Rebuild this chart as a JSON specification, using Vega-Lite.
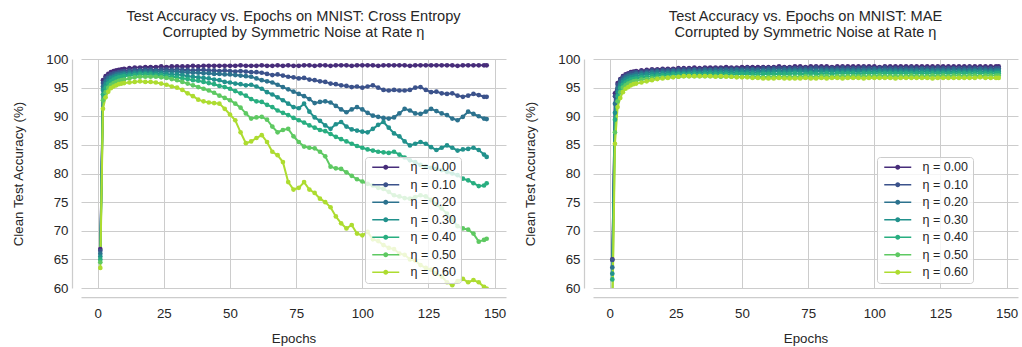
{
  "$schema": "https://vega.github.io/schema/vega-lite/v6.json",
  "background": "white",
  "padding": {"left": 11, "top": 8, "right": 3, "bottom": 3},
  "config": {
    "view": {"stroke": null},
    "font": "Liberation Sans",
    "axis": {
      "domainColor": "#cccccc", "domainWidth": 1.25,
      "gridColor": "#cccccc", "gridWidth": 1,
      "ticks": false, "tickSize": 0,
      "labelFont": "Liberation Sans", "labelFontSize": 13.3, "labelColor": "#262626",
      "titleFont": "Liberation Sans", "titleFontSize": 13.3, "titleFontWeight": "normal", "titleColor": "#262626"
    },
    "title": {"font": "Liberation Sans", "fontSize": 14.6, "fontWeight": "normal", "color": "#262626", "lineHeight": 16.5, "offset": 12, "anchor": "middle"}
  },
  "datasets": {
    "ce": [
      {"n":0,"e":1,"a":66.8},{"n":0,"e":2,"a":96.3},{"n":0,"e":3,"a":97.0},{"n":0,"e":4,"a":97.4},{"n":0,"e":5,"a":97.7},{"n":0,"e":6,"a":97.9},{"n":0,"e":7,"a":98.0},{"n":0,"e":8,"a":98.1},{"n":0,"e":9,"a":98.2},{"n":0,"e":10,"a":98.3},
      {"n":0,"e":12,"a":98.4},{"n":0,"e":14,"a":98.5},{"n":0,"e":16,"a":98.5},{"n":0,"e":18,"a":98.6},{"n":0,"e":20,"a":98.6},{"n":0,"e":22,"a":98.6},{"n":0,"e":24,"a":98.7},{"n":0,"e":26,"a":98.6},{"n":0,"e":28,"a":98.7},{"n":0,"e":30,"a":98.7},
      {"n":0,"e":32,"a":98.7},{"n":0,"e":34,"a":98.7},{"n":0,"e":36,"a":98.8},{"n":0,"e":38,"a":98.7},{"n":0,"e":40,"a":98.8},{"n":0,"e":42,"a":98.8},{"n":0,"e":44,"a":98.8},{"n":0,"e":46,"a":98.8},{"n":0,"e":48,"a":98.8},{"n":0,"e":50,"a":98.8},
      {"n":0,"e":52,"a":98.8},{"n":0,"e":54,"a":98.9},{"n":0,"e":56,"a":98.8},{"n":0,"e":58,"a":98.8},{"n":0,"e":60,"a":98.8},{"n":0,"e":62,"a":98.9},{"n":0,"e":64,"a":98.8},{"n":0,"e":66,"a":98.8},{"n":0,"e":68,"a":98.9},{"n":0,"e":70,"a":98.8},
      {"n":0,"e":72,"a":98.9},{"n":0,"e":74,"a":98.8},{"n":0,"e":76,"a":98.8},{"n":0,"e":78,"a":98.9},{"n":0,"e":80,"a":98.9},{"n":0,"e":82,"a":98.8},{"n":0,"e":84,"a":98.9},{"n":0,"e":86,"a":98.9},{"n":0,"e":88,"a":98.8},{"n":0,"e":90,"a":98.9},
      {"n":0,"e":92,"a":98.9},{"n":0,"e":94,"a":98.9},{"n":0,"e":96,"a":98.8},{"n":0,"e":98,"a":98.9},{"n":0,"e":100,"a":98.9},{"n":0,"e":102,"a":98.9},{"n":0,"e":104,"a":98.9},{"n":0,"e":106,"a":98.8},{"n":0,"e":108,"a":98.9},{"n":0,"e":110,"a":98.9},
      {"n":0,"e":112,"a":98.9},{"n":0,"e":114,"a":98.9},{"n":0,"e":116,"a":98.9},{"n":0,"e":118,"a":98.8},{"n":0,"e":120,"a":98.9},{"n":0,"e":122,"a":98.9},{"n":0,"e":124,"a":98.9},{"n":0,"e":126,"a":98.9},{"n":0,"e":128,"a":98.9},{"n":0,"e":130,"a":98.9},
      {"n":0,"e":132,"a":98.9},{"n":0,"e":134,"a":98.9},{"n":0,"e":136,"a":98.8},{"n":0,"e":138,"a":98.9},{"n":0,"e":140,"a":98.9},{"n":0,"e":142,"a":98.9},{"n":0,"e":144,"a":98.9},{"n":0,"e":146,"a":98.9},{"n":0,"e":147,"a":98.9},

      {"n":0.1,"e":1,"a":66.5},{"n":0.1,"e":2,"a":95.8},{"n":0.1,"e":3,"a":96.6},{"n":0.1,"e":4,"a":97.0},{"n":0.1,"e":5,"a":97.3},{"n":0.1,"e":6,"a":97.5},{"n":0.1,"e":7,"a":97.6},{"n":0.1,"e":8,"a":97.7},{"n":0.1,"e":9,"a":97.8},{"n":0.1,"e":10,"a":97.9},
      {"n":0.1,"e":12,"a":98.0},{"n":0.1,"e":14,"a":98.1},{"n":0.1,"e":16,"a":98.1},{"n":0.1,"e":18,"a":98.2},{"n":0.1,"e":20,"a":98.2},{"n":0.1,"e":22,"a":98.1},{"n":0.1,"e":24,"a":98.2},{"n":0.1,"e":26,"a":98.2},{"n":0.1,"e":28,"a":98.1},{"n":0.1,"e":30,"a":98.2},
      {"n":0.1,"e":32,"a":98.1},{"n":0.1,"e":34,"a":98.1},{"n":0.1,"e":36,"a":98.0},{"n":0.1,"e":38,"a":98.1},{"n":0.1,"e":40,"a":98.1},{"n":0.1,"e":42,"a":98.0},{"n":0.1,"e":44,"a":98.0},{"n":0.1,"e":46,"a":97.9},{"n":0.1,"e":48,"a":98.0},{"n":0.1,"e":50,"a":97.9},
      {"n":0.1,"e":52,"a":97.8},{"n":0.1,"e":54,"a":97.9},{"n":0.1,"e":56,"a":97.8},{"n":0.1,"e":58,"a":97.7},{"n":0.1,"e":60,"a":97.7},{"n":0.1,"e":62,"a":97.6},{"n":0.1,"e":64,"a":97.4},{"n":0.1,"e":66,"a":97.2},{"n":0.1,"e":68,"a":97.3},{"n":0.1,"e":70,"a":97.1},
      {"n":0.1,"e":72,"a":96.9},{"n":0.1,"e":74,"a":96.8},{"n":0.1,"e":76,"a":96.6},{"n":0.1,"e":78,"a":96.7},{"n":0.1,"e":80,"a":96.4},{"n":0.1,"e":82,"a":96.3},{"n":0.1,"e":84,"a":96.1},{"n":0.1,"e":86,"a":96.0},{"n":0.1,"e":88,"a":95.7},{"n":0.1,"e":90,"a":95.6},
      {"n":0.1,"e":92,"a":95.4},{"n":0.1,"e":94,"a":95.3},{"n":0.1,"e":96,"a":95.1},{"n":0.1,"e":98,"a":95.2},{"n":0.1,"e":100,"a":95.0},{"n":0.1,"e":102,"a":95.2},{"n":0.1,"e":104,"a":95.4},{"n":0.1,"e":106,"a":95.0},{"n":0.1,"e":108,"a":94.6},{"n":0.1,"e":110,"a":94.5},
      {"n":0.1,"e":112,"a":94.6},{"n":0.1,"e":114,"a":94.5},{"n":0.1,"e":116,"a":94.5},{"n":0.1,"e":118,"a":94.6},{"n":0.1,"e":120,"a":95.0},{"n":0.1,"e":122,"a":95.1},{"n":0.1,"e":124,"a":94.6},{"n":0.1,"e":126,"a":94.2},{"n":0.1,"e":128,"a":94.3},{"n":0.1,"e":130,"a":94.0},
      {"n":0.1,"e":132,"a":93.9},{"n":0.1,"e":134,"a":94.0},{"n":0.1,"e":136,"a":93.6},{"n":0.1,"e":138,"a":93.4},{"n":0.1,"e":140,"a":93.6},{"n":0.1,"e":142,"a":93.9},{"n":0.1,"e":144,"a":93.7},{"n":0.1,"e":146,"a":93.4},{"n":0.1,"e":147,"a":93.4},

      {"n":0.2,"e":1,"a":66.0},{"n":0.2,"e":2,"a":95.2},{"n":0.2,"e":3,"a":96.1},{"n":0.2,"e":4,"a":96.6},{"n":0.2,"e":5,"a":96.9},{"n":0.2,"e":6,"a":97.1},{"n":0.2,"e":7,"a":97.3},{"n":0.2,"e":8,"a":97.4},{"n":0.2,"e":9,"a":97.5},{"n":0.2,"e":10,"a":97.6},
      {"n":0.2,"e":12,"a":97.7},{"n":0.2,"e":14,"a":97.8},{"n":0.2,"e":16,"a":97.9},{"n":0.2,"e":18,"a":97.9},{"n":0.2,"e":20,"a":97.9},{"n":0.2,"e":22,"a":97.9},{"n":0.2,"e":24,"a":97.8},{"n":0.2,"e":26,"a":97.8},{"n":0.2,"e":28,"a":97.8},{"n":0.2,"e":30,"a":97.8},
      {"n":0.2,"e":32,"a":97.7},{"n":0.2,"e":34,"a":97.7},{"n":0.2,"e":36,"a":97.6},{"n":0.2,"e":38,"a":97.6},{"n":0.2,"e":40,"a":97.5},{"n":0.2,"e":42,"a":97.5},{"n":0.2,"e":44,"a":97.4},{"n":0.2,"e":46,"a":97.4},{"n":0.2,"e":48,"a":97.3},{"n":0.2,"e":50,"a":97.3},
      {"n":0.2,"e":52,"a":97.2},{"n":0.2,"e":54,"a":97.1},{"n":0.2,"e":56,"a":97.0},{"n":0.2,"e":58,"a":96.9},{"n":0.2,"e":60,"a":96.6},{"n":0.2,"e":62,"a":96.3},{"n":0.2,"e":64,"a":96.1},{"n":0.2,"e":66,"a":95.9},{"n":0.2,"e":68,"a":95.5},{"n":0.2,"e":70,"a":95.1},
      {"n":0.2,"e":72,"a":94.7},{"n":0.2,"e":74,"a":94.3},{"n":0.2,"e":76,"a":93.9},{"n":0.2,"e":78,"a":93.5},{"n":0.2,"e":80,"a":93.0},{"n":0.2,"e":82,"a":92.3},{"n":0.2,"e":84,"a":92.5},{"n":0.2,"e":86,"a":92.6},{"n":0.2,"e":88,"a":92.4},{"n":0.2,"e":90,"a":91.8},
      {"n":0.2,"e":92,"a":91.2},{"n":0.2,"e":94,"a":90.7},{"n":0.2,"e":96,"a":91.2},{"n":0.2,"e":98,"a":91.6},{"n":0.2,"e":100,"a":91.2},{"n":0.2,"e":102,"a":90.6},{"n":0.2,"e":104,"a":90.1},{"n":0.2,"e":106,"a":89.9},{"n":0.2,"e":108,"a":89.7},{"n":0.2,"e":110,"a":89.6},
      {"n":0.2,"e":112,"a":89.8},{"n":0.2,"e":114,"a":90.5},{"n":0.2,"e":116,"a":91.3},{"n":0.2,"e":118,"a":91.0},{"n":0.2,"e":120,"a":90.5},{"n":0.2,"e":122,"a":90.4},{"n":0.2,"e":124,"a":90.8},{"n":0.2,"e":126,"a":91.3},{"n":0.2,"e":128,"a":90.9},{"n":0.2,"e":130,"a":90.5},
      {"n":0.2,"e":132,"a":90.2},{"n":0.2,"e":134,"a":89.6},{"n":0.2,"e":136,"a":89.3},{"n":0.2,"e":138,"a":89.9},{"n":0.2,"e":140,"a":90.8},{"n":0.2,"e":142,"a":90.4},{"n":0.2,"e":144,"a":90.0},{"n":0.2,"e":146,"a":89.6},{"n":0.2,"e":147,"a":89.5},

      {"n":0.3,"e":1,"a":65.5},{"n":0.3,"e":2,"a":94.6},{"n":0.3,"e":3,"a":95.6},{"n":0.3,"e":4,"a":96.2},{"n":0.3,"e":5,"a":96.6},{"n":0.3,"e":6,"a":96.8},{"n":0.3,"e":7,"a":97.0},{"n":0.3,"e":8,"a":97.1},{"n":0.3,"e":9,"a":97.2},{"n":0.3,"e":10,"a":97.3},
      {"n":0.3,"e":12,"a":97.4},{"n":0.3,"e":14,"a":97.5},{"n":0.3,"e":16,"a":97.6},{"n":0.3,"e":18,"a":97.6},{"n":0.3,"e":20,"a":97.6},{"n":0.3,"e":22,"a":97.5},{"n":0.3,"e":24,"a":97.5},{"n":0.3,"e":26,"a":97.4},{"n":0.3,"e":28,"a":97.3},{"n":0.3,"e":30,"a":97.3},
      {"n":0.3,"e":32,"a":97.2},{"n":0.3,"e":34,"a":97.0},{"n":0.3,"e":36,"a":96.9},{"n":0.3,"e":38,"a":96.8},{"n":0.3,"e":40,"a":96.7},{"n":0.3,"e":42,"a":96.6},{"n":0.3,"e":44,"a":96.4},{"n":0.3,"e":46,"a":96.3},{"n":0.3,"e":48,"a":96.0},{"n":0.3,"e":50,"a":95.9},
      {"n":0.3,"e":52,"a":95.7},{"n":0.3,"e":54,"a":95.6},{"n":0.3,"e":56,"a":95.4},{"n":0.3,"e":58,"a":95.5},{"n":0.3,"e":60,"a":95.2},{"n":0.3,"e":62,"a":94.8},{"n":0.3,"e":64,"a":94.2},{"n":0.3,"e":66,"a":93.8},{"n":0.3,"e":68,"a":93.3},{"n":0.3,"e":70,"a":92.8},
      {"n":0.3,"e":72,"a":92.2},{"n":0.3,"e":74,"a":91.6},{"n":0.3,"e":76,"a":91.4},{"n":0.3,"e":78,"a":92.2},{"n":0.3,"e":80,"a":90.8},{"n":0.3,"e":82,"a":89.8},{"n":0.3,"e":84,"a":89.2},{"n":0.3,"e":86,"a":88.4},{"n":0.3,"e":88,"a":87.8},{"n":0.3,"e":90,"a":88.6},
      {"n":0.3,"e":92,"a":89.0},{"n":0.3,"e":94,"a":88.2},{"n":0.3,"e":96,"a":87.7},{"n":0.3,"e":98,"a":87.5},{"n":0.3,"e":100,"a":87.3},{"n":0.3,"e":102,"a":87.2},{"n":0.3,"e":104,"a":87.8},{"n":0.3,"e":106,"a":88.5},{"n":0.3,"e":108,"a":89.0},{"n":0.3,"e":110,"a":88.0},
      {"n":0.3,"e":112,"a":87.0},{"n":0.3,"e":114,"a":86.5},{"n":0.3,"e":116,"a":85.6},{"n":0.3,"e":118,"a":84.9},{"n":0.3,"e":120,"a":85.2},{"n":0.3,"e":122,"a":85.5},{"n":0.3,"e":124,"a":85.2},{"n":0.3,"e":126,"a":84.6},{"n":0.3,"e":128,"a":84.1},{"n":0.3,"e":130,"a":84.5},
      {"n":0.3,"e":132,"a":84.9},{"n":0.3,"e":134,"a":84.5},{"n":0.3,"e":136,"a":84.0},{"n":0.3,"e":138,"a":84.2},{"n":0.3,"e":140,"a":84.3},{"n":0.3,"e":142,"a":84.5},{"n":0.3,"e":144,"a":84.1},{"n":0.3,"e":146,"a":83.3},{"n":0.3,"e":147,"a":82.9},

      {"n":0.4,"e":1,"a":65.0},{"n":0.4,"e":2,"a":93.8},{"n":0.4,"e":3,"a":95.0},{"n":0.4,"e":4,"a":95.7},{"n":0.4,"e":5,"a":96.1},{"n":0.4,"e":6,"a":96.4},{"n":0.4,"e":7,"a":96.6},{"n":0.4,"e":8,"a":96.8},{"n":0.4,"e":9,"a":96.9},{"n":0.4,"e":10,"a":97.0},
      {"n":0.4,"e":12,"a":97.1},{"n":0.4,"e":14,"a":97.2},{"n":0.4,"e":16,"a":97.3},{"n":0.4,"e":18,"a":97.3},{"n":0.4,"e":20,"a":97.3},{"n":0.4,"e":22,"a":97.2},{"n":0.4,"e":24,"a":97.2},{"n":0.4,"e":26,"a":97.0},{"n":0.4,"e":28,"a":96.9},{"n":0.4,"e":30,"a":96.8},
      {"n":0.4,"e":32,"a":96.6},{"n":0.4,"e":34,"a":96.5},{"n":0.4,"e":36,"a":96.3},{"n":0.4,"e":38,"a":96.2},{"n":0.4,"e":40,"a":96.0},{"n":0.4,"e":42,"a":95.8},{"n":0.4,"e":44,"a":95.6},{"n":0.4,"e":46,"a":95.3},{"n":0.4,"e":48,"a":95.1},{"n":0.4,"e":50,"a":94.8},
      {"n":0.4,"e":52,"a":94.4},{"n":0.4,"e":54,"a":94.0},{"n":0.4,"e":56,"a":93.6},{"n":0.4,"e":58,"a":93.0},{"n":0.4,"e":60,"a":92.6},{"n":0.4,"e":62,"a":92.5},{"n":0.4,"e":64,"a":92.0},{"n":0.4,"e":66,"a":91.6},{"n":0.4,"e":68,"a":91.0},{"n":0.4,"e":70,"a":90.6},
      {"n":0.4,"e":72,"a":90.2},{"n":0.4,"e":74,"a":89.7},{"n":0.4,"e":76,"a":89.3},{"n":0.4,"e":78,"a":88.9},{"n":0.4,"e":80,"a":88.4},{"n":0.4,"e":82,"a":88.0},{"n":0.4,"e":84,"a":87.6},{"n":0.4,"e":86,"a":87.4},{"n":0.4,"e":88,"a":86.9},{"n":0.4,"e":90,"a":86.4},
      {"n":0.4,"e":92,"a":86.0},{"n":0.4,"e":94,"a":85.6},{"n":0.4,"e":96,"a":85.2},{"n":0.4,"e":98,"a":84.8},{"n":0.4,"e":100,"a":84.5},{"n":0.4,"e":102,"a":84.2},{"n":0.4,"e":104,"a":84.0},{"n":0.4,"e":106,"a":83.8},{"n":0.4,"e":108,"a":83.7},{"n":0.4,"e":110,"a":83.6},
      {"n":0.4,"e":112,"a":83.8},{"n":0.4,"e":114,"a":83.3},{"n":0.4,"e":116,"a":82.8},{"n":0.4,"e":118,"a":82.3},{"n":0.4,"e":120,"a":82.0},{"n":0.4,"e":122,"a":81.5},{"n":0.4,"e":124,"a":81.2},{"n":0.4,"e":126,"a":81.0},{"n":0.4,"e":128,"a":80.8},{"n":0.4,"e":130,"a":80.6},
      {"n":0.4,"e":132,"a":80.3},{"n":0.4,"e":134,"a":80.0},{"n":0.4,"e":136,"a":79.7},{"n":0.4,"e":138,"a":79.1},{"n":0.4,"e":140,"a":78.8},{"n":0.4,"e":142,"a":78.3},{"n":0.4,"e":144,"a":77.8},{"n":0.4,"e":146,"a":77.9},{"n":0.4,"e":147,"a":78.3},

      {"n":0.5,"e":1,"a":64.5},{"n":0.5,"e":2,"a":92.8},{"n":0.5,"e":3,"a":94.2},{"n":0.5,"e":4,"a":95.0},{"n":0.5,"e":5,"a":95.5},{"n":0.5,"e":6,"a":95.8},{"n":0.5,"e":7,"a":96.0},{"n":0.5,"e":8,"a":96.2},{"n":0.5,"e":9,"a":96.3},{"n":0.5,"e":10,"a":96.4},
      {"n":0.5,"e":12,"a":96.6},{"n":0.5,"e":14,"a":96.8},{"n":0.5,"e":16,"a":96.9},{"n":0.5,"e":18,"a":96.9},{"n":0.5,"e":20,"a":96.9},{"n":0.5,"e":22,"a":96.9},{"n":0.5,"e":24,"a":96.8},{"n":0.5,"e":26,"a":96.7},{"n":0.5,"e":28,"a":96.5},{"n":0.5,"e":30,"a":96.3},
      {"n":0.5,"e":32,"a":96.0},{"n":0.5,"e":34,"a":95.7},{"n":0.5,"e":36,"a":95.4},{"n":0.5,"e":38,"a":95.1},{"n":0.5,"e":40,"a":94.8},{"n":0.5,"e":42,"a":94.5},{"n":0.5,"e":44,"a":94.1},{"n":0.5,"e":46,"a":93.6},{"n":0.5,"e":48,"a":93.2},{"n":0.5,"e":50,"a":92.8},
      {"n":0.5,"e":52,"a":92.2},{"n":0.5,"e":54,"a":91.5},{"n":0.5,"e":56,"a":90.5},{"n":0.5,"e":58,"a":89.6},{"n":0.5,"e":60,"a":89.8},{"n":0.5,"e":62,"a":89.9},{"n":0.5,"e":64,"a":89.4},{"n":0.5,"e":66,"a":88.2},{"n":0.5,"e":68,"a":87.2},{"n":0.5,"e":70,"a":87.6},
      {"n":0.5,"e":72,"a":87.8},{"n":0.5,"e":74,"a":86.5},{"n":0.5,"e":76,"a":85.5},{"n":0.5,"e":78,"a":84.7},{"n":0.5,"e":80,"a":84.5},{"n":0.5,"e":82,"a":84.4},{"n":0.5,"e":84,"a":83.8},{"n":0.5,"e":86,"a":83.0},{"n":0.5,"e":88,"a":81.2},{"n":0.5,"e":90,"a":80.9},
      {"n":0.5,"e":92,"a":80.8},{"n":0.5,"e":94,"a":80.2},{"n":0.5,"e":96,"a":79.6},{"n":0.5,"e":98,"a":79.0},{"n":0.5,"e":100,"a":78.6},{"n":0.5,"e":102,"a":78.2},{"n":0.5,"e":104,"a":77.9},{"n":0.5,"e":106,"a":77.5},{"n":0.5,"e":108,"a":77.3},{"n":0.5,"e":110,"a":76.8},
      {"n":0.5,"e":112,"a":76.2},{"n":0.5,"e":114,"a":76.0},{"n":0.5,"e":116,"a":75.7},{"n":0.5,"e":118,"a":75.6},{"n":0.5,"e":120,"a":75.9},{"n":0.5,"e":122,"a":76.2},{"n":0.5,"e":124,"a":76.0},{"n":0.5,"e":126,"a":75.4},{"n":0.5,"e":128,"a":74.6},{"n":0.5,"e":130,"a":73.9},
      {"n":0.5,"e":132,"a":73.0},{"n":0.5,"e":134,"a":72.0},{"n":0.5,"e":136,"a":70.8},{"n":0.5,"e":138,"a":70.4},{"n":0.5,"e":140,"a":70.2},{"n":0.5,"e":142,"a":69.5},{"n":0.5,"e":144,"a":68.1},{"n":0.5,"e":146,"a":68.4},{"n":0.5,"e":147,"a":68.6},

      {"n":0.6,"e":1,"a":63.5},{"n":0.6,"e":2,"a":91.3},{"n":0.6,"e":3,"a":93.3},{"n":0.6,"e":4,"a":94.3},{"n":0.6,"e":5,"a":94.9},{"n":0.6,"e":6,"a":95.2},{"n":0.6,"e":7,"a":95.4},{"n":0.6,"e":8,"a":95.6},{"n":0.6,"e":9,"a":95.7},{"n":0.6,"e":10,"a":95.8},
      {"n":0.6,"e":12,"a":95.9},{"n":0.6,"e":14,"a":96.0},{"n":0.6,"e":16,"a":96.1},{"n":0.6,"e":18,"a":96.0},{"n":0.6,"e":20,"a":96.0},{"n":0.6,"e":22,"a":95.9},{"n":0.6,"e":24,"a":95.7},{"n":0.6,"e":26,"a":95.5},{"n":0.6,"e":28,"a":95.2},{"n":0.6,"e":30,"a":95.0},
      {"n":0.6,"e":32,"a":94.6},{"n":0.6,"e":34,"a":94.0},{"n":0.6,"e":36,"a":93.5},{"n":0.6,"e":38,"a":92.9},{"n":0.6,"e":40,"a":92.6},{"n":0.6,"e":42,"a":92.4},{"n":0.6,"e":44,"a":92.3},{"n":0.6,"e":46,"a":92.2},{"n":0.6,"e":48,"a":91.3},{"n":0.6,"e":50,"a":90.3},
      {"n":0.6,"e":52,"a":89.3},{"n":0.6,"e":54,"a":87.2},{"n":0.6,"e":56,"a":85.3},{"n":0.6,"e":58,"a":85.6},{"n":0.6,"e":60,"a":86.2},{"n":0.6,"e":62,"a":86.7},{"n":0.6,"e":64,"a":85.5},{"n":0.6,"e":66,"a":83.8},{"n":0.6,"e":68,"a":83.2},{"n":0.6,"e":70,"a":82.0},
      {"n":0.6,"e":72,"a":78.5},{"n":0.6,"e":74,"a":77.2},{"n":0.6,"e":76,"a":77.5},{"n":0.6,"e":78,"a":78.5},{"n":0.6,"e":80,"a":77.2},{"n":0.6,"e":82,"a":76.6},{"n":0.6,"e":84,"a":75.6},{"n":0.6,"e":86,"a":75.0},{"n":0.6,"e":88,"a":74.1},{"n":0.6,"e":90,"a":72.5},
      {"n":0.6,"e":92,"a":71.3},{"n":0.6,"e":94,"a":70.4},{"n":0.6,"e":96,"a":71.0},{"n":0.6,"e":98,"a":69.5},{"n":0.6,"e":100,"a":69.2},{"n":0.6,"e":102,"a":69.8},{"n":0.6,"e":104,"a":68.5},{"n":0.6,"e":106,"a":68.2},{"n":0.6,"e":108,"a":67.5},{"n":0.6,"e":110,"a":67.0},
      {"n":0.6,"e":112,"a":66.8},{"n":0.6,"e":114,"a":66.0},{"n":0.6,"e":116,"a":65.8},{"n":0.6,"e":118,"a":65.0},{"n":0.6,"e":120,"a":64.8},{"n":0.6,"e":122,"a":64.0},{"n":0.6,"e":124,"a":63.5},{"n":0.6,"e":126,"a":63.2},{"n":0.6,"e":128,"a":62.5},{"n":0.6,"e":130,"a":62.0},
      {"n":0.6,"e":132,"a":61.0},{"n":0.6,"e":134,"a":60.5},{"n":0.6,"e":136,"a":61.2},{"n":0.6,"e":138,"a":61.6},{"n":0.6,"e":140,"a":61.0},{"n":0.6,"e":142,"a":61.4},{"n":0.6,"e":144,"a":61.0},{"n":0.6,"e":146,"a":60.2},{"n":0.6,"e":147,"a":59.9}
    ],
    "mae": [
      {"n":0,"e":1,"a":65.0},{"n":0,"e":2,"a":94.0},{"n":0,"e":3,"a":95.8},{"n":0,"e":4,"a":96.5},{"n":0,"e":5,"a":97.0},{"n":0,"e":6,"a":97.3},{"n":0,"e":7,"a":97.5},{"n":0,"e":8,"a":97.7},{"n":0,"e":9,"a":97.8},{"n":0,"e":10,"a":97.9},
      {"n":0,"e":12,"a":98.0},{"n":0,"e":14,"a":98.1},{"n":0,"e":16,"a":98.2},{"n":0,"e":18,"a":98.2},{"n":0,"e":20,"a":98.3},{"n":0,"e":22,"a":98.3},{"n":0,"e":24,"a":98.3},{"n":0,"e":26,"a":98.4},{"n":0,"e":28,"a":98.4},{"n":0,"e":30,"a":98.4},
      {"n":0,"e":32,"a":98.5},{"n":0,"e":34,"a":98.4},{"n":0,"e":36,"a":98.5},{"n":0,"e":38,"a":98.5},{"n":0,"e":40,"a":98.5},{"n":0,"e":42,"a":98.5},{"n":0,"e":44,"a":98.6},{"n":0,"e":46,"a":98.5},{"n":0,"e":48,"a":98.5},{"n":0,"e":50,"a":98.6},
      {"n":0,"e":52,"a":98.6},{"n":0,"e":54,"a":98.6},{"n":0,"e":56,"a":98.6},{"n":0,"e":58,"a":98.6},{"n":0,"e":60,"a":98.6},{"n":0,"e":62,"a":98.6},{"n":0,"e":64,"a":98.7},{"n":0,"e":66,"a":98.6},{"n":0,"e":68,"a":98.6},{"n":0,"e":70,"a":98.7},
      {"n":0,"e":72,"a":98.7},{"n":0,"e":74,"a":98.6},{"n":0,"e":76,"a":98.7},{"n":0,"e":78,"a":98.7},{"n":0,"e":80,"a":98.7},{"n":0,"e":82,"a":98.7},{"n":0,"e":84,"a":98.6},{"n":0,"e":86,"a":98.7},{"n":0,"e":88,"a":98.7},{"n":0,"e":90,"a":98.7},
      {"n":0,"e":92,"a":98.7},{"n":0,"e":94,"a":98.7},{"n":0,"e":96,"a":98.7},{"n":0,"e":98,"a":98.7},{"n":0,"e":100,"a":98.7},{"n":0,"e":102,"a":98.6},{"n":0,"e":104,"a":98.7},{"n":0,"e":106,"a":98.7},{"n":0,"e":108,"a":98.7},{"n":0,"e":110,"a":98.7},
      {"n":0,"e":112,"a":98.7},{"n":0,"e":114,"a":98.7},{"n":0,"e":116,"a":98.7},{"n":0,"e":118,"a":98.7},{"n":0,"e":120,"a":98.7},{"n":0,"e":122,"a":98.7},{"n":0,"e":124,"a":98.7},{"n":0,"e":126,"a":98.7},{"n":0,"e":128,"a":98.7},{"n":0,"e":130,"a":98.7},
      {"n":0,"e":132,"a":98.7},{"n":0,"e":134,"a":98.7},{"n":0,"e":136,"a":98.7},{"n":0,"e":138,"a":98.7},{"n":0,"e":140,"a":98.7},{"n":0,"e":142,"a":98.7},{"n":0,"e":144,"a":98.7},{"n":0,"e":146,"a":98.7},{"n":0,"e":147,"a":98.7},

      {"n":0.1,"e":1,"a":64.9},{"n":0.1,"e":2,"a":93.5},{"n":0.1,"e":3,"a":95.5},{"n":0.1,"e":4,"a":96.3},{"n":0.1,"e":5,"a":96.8},{"n":0.1,"e":6,"a":97.1},{"n":0.1,"e":7,"a":97.3},{"n":0.1,"e":8,"a":97.5},{"n":0.1,"e":9,"a":97.6},{"n":0.1,"e":10,"a":97.7},
      {"n":0.1,"e":12,"a":97.8},{"n":0.1,"e":14,"a":97.9},{"n":0.1,"e":16,"a":98.0},{"n":0.1,"e":18,"a":98.0},{"n":0.1,"e":20,"a":98.1},{"n":0.1,"e":22,"a":98.1},{"n":0.1,"e":24,"a":98.1},{"n":0.1,"e":26,"a":98.2},{"n":0.1,"e":28,"a":98.2},{"n":0.1,"e":30,"a":98.2},
      {"n":0.1,"e":32,"a":98.2},{"n":0.1,"e":34,"a":98.2},{"n":0.1,"e":36,"a":98.3},{"n":0.1,"e":38,"a":98.2},{"n":0.1,"e":40,"a":98.3},{"n":0.1,"e":42,"a":98.3},{"n":0.1,"e":44,"a":98.3},{"n":0.1,"e":46,"a":98.3},{"n":0.1,"e":48,"a":98.3},{"n":0.1,"e":50,"a":98.3},
      {"n":0.1,"e":52,"a":98.4},{"n":0.1,"e":54,"a":98.3},{"n":0.1,"e":56,"a":98.3},{"n":0.1,"e":58,"a":98.4},{"n":0.1,"e":60,"a":98.4},{"n":0.1,"e":62,"a":98.4},{"n":0.1,"e":64,"a":98.4},{"n":0.1,"e":66,"a":98.4},{"n":0.1,"e":68,"a":98.4},{"n":0.1,"e":70,"a":98.4},
      {"n":0.1,"e":72,"a":98.4},{"n":0.1,"e":74,"a":98.4},{"n":0.1,"e":76,"a":98.4},{"n":0.1,"e":78,"a":98.5},{"n":0.1,"e":80,"a":98.4},{"n":0.1,"e":82,"a":98.4},{"n":0.1,"e":84,"a":98.4},{"n":0.1,"e":86,"a":98.4},{"n":0.1,"e":88,"a":98.5},{"n":0.1,"e":90,"a":98.4},
      {"n":0.1,"e":92,"a":98.4},{"n":0.1,"e":94,"a":98.4},{"n":0.1,"e":96,"a":98.5},{"n":0.1,"e":98,"a":98.4},{"n":0.1,"e":100,"a":98.4},{"n":0.1,"e":102,"a":98.4},{"n":0.1,"e":104,"a":98.5},{"n":0.1,"e":106,"a":98.4},{"n":0.1,"e":108,"a":98.4},{"n":0.1,"e":110,"a":98.4},
      {"n":0.1,"e":112,"a":98.4},{"n":0.1,"e":114,"a":98.5},{"n":0.1,"e":116,"a":98.4},{"n":0.1,"e":118,"a":98.4},{"n":0.1,"e":120,"a":98.4},{"n":0.1,"e":122,"a":98.4},{"n":0.1,"e":124,"a":98.5},{"n":0.1,"e":126,"a":98.4},{"n":0.1,"e":128,"a":98.4},{"n":0.1,"e":130,"a":98.4},
      {"n":0.1,"e":132,"a":98.4},{"n":0.1,"e":134,"a":98.4},{"n":0.1,"e":136,"a":98.5},{"n":0.1,"e":138,"a":98.4},{"n":0.1,"e":140,"a":98.4},{"n":0.1,"e":142,"a":98.4},{"n":0.1,"e":144,"a":98.4},{"n":0.1,"e":146,"a":98.4},{"n":0.1,"e":147,"a":98.4},

      {"n":0.2,"e":1,"a":63.6},{"n":0.2,"e":2,"a":92.2},{"n":0.2,"e":3,"a":94.9},{"n":0.2,"e":4,"a":95.9},{"n":0.2,"e":5,"a":96.4},{"n":0.2,"e":6,"a":96.8},{"n":0.2,"e":7,"a":97.0},{"n":0.2,"e":8,"a":97.1},{"n":0.2,"e":9,"a":97.2},{"n":0.2,"e":10,"a":97.4},
      {"n":0.2,"e":12,"a":97.5},{"n":0.2,"e":14,"a":97.6},{"n":0.2,"e":16,"a":97.7},{"n":0.2,"e":18,"a":97.8},{"n":0.2,"e":20,"a":97.8},{"n":0.2,"e":22,"a":97.8},{"n":0.2,"e":24,"a":97.9},{"n":0.2,"e":26,"a":97.9},{"n":0.2,"e":28,"a":97.9},{"n":0.2,"e":30,"a":97.9},
      {"n":0.2,"e":32,"a":98.0},{"n":0.2,"e":34,"a":97.9},{"n":0.2,"e":36,"a":98.0},{"n":0.2,"e":38,"a":98.0},{"n":0.2,"e":40,"a":98.0},{"n":0.2,"e":42,"a":98.0},{"n":0.2,"e":44,"a":98.0},{"n":0.2,"e":46,"a":98.0},{"n":0.2,"e":48,"a":98.1},{"n":0.2,"e":50,"a":98.0},
      {"n":0.2,"e":52,"a":98.0},{"n":0.2,"e":54,"a":98.1},{"n":0.2,"e":56,"a":98.0},{"n":0.2,"e":58,"a":98.0},{"n":0.2,"e":60,"a":98.1},{"n":0.2,"e":62,"a":98.1},{"n":0.2,"e":64,"a":98.0},{"n":0.2,"e":66,"a":98.1},{"n":0.2,"e":68,"a":98.1},{"n":0.2,"e":70,"a":98.1},
      {"n":0.2,"e":72,"a":98.1},{"n":0.2,"e":74,"a":98.1},{"n":0.2,"e":76,"a":98.1},{"n":0.2,"e":78,"a":98.0},{"n":0.2,"e":80,"a":98.1},{"n":0.2,"e":82,"a":98.1},{"n":0.2,"e":84,"a":98.1},{"n":0.2,"e":86,"a":98.1},{"n":0.2,"e":88,"a":98.1},{"n":0.2,"e":90,"a":98.1},
      {"n":0.2,"e":92,"a":98.1},{"n":0.2,"e":94,"a":98.1},{"n":0.2,"e":96,"a":98.1},{"n":0.2,"e":98,"a":98.1},{"n":0.2,"e":100,"a":98.2},{"n":0.2,"e":102,"a":98.1},{"n":0.2,"e":104,"a":98.1},{"n":0.2,"e":106,"a":98.1},{"n":0.2,"e":108,"a":98.1},{"n":0.2,"e":110,"a":98.1},
      {"n":0.2,"e":112,"a":98.1},{"n":0.2,"e":114,"a":98.1},{"n":0.2,"e":116,"a":98.1},{"n":0.2,"e":118,"a":98.2},{"n":0.2,"e":120,"a":98.1},{"n":0.2,"e":122,"a":98.1},{"n":0.2,"e":124,"a":98.1},{"n":0.2,"e":126,"a":98.1},{"n":0.2,"e":128,"a":98.1},{"n":0.2,"e":130,"a":98.2},
      {"n":0.2,"e":132,"a":98.1},{"n":0.2,"e":134,"a":98.1},{"n":0.2,"e":136,"a":98.1},{"n":0.2,"e":138,"a":98.1},{"n":0.2,"e":140,"a":98.2},{"n":0.2,"e":142,"a":98.1},{"n":0.2,"e":144,"a":98.1},{"n":0.2,"e":146,"a":98.1},{"n":0.2,"e":147,"a":98.1},

      {"n":0.3,"e":1,"a":62.5},{"n":0.3,"e":2,"a":90.6},{"n":0.3,"e":3,"a":94.2},{"n":0.3,"e":4,"a":95.4},{"n":0.3,"e":5,"a":96.0},{"n":0.3,"e":6,"a":96.4},{"n":0.3,"e":7,"a":96.6},{"n":0.3,"e":8,"a":96.8},{"n":0.3,"e":9,"a":96.9},{"n":0.3,"e":10,"a":97.0},
      {"n":0.3,"e":12,"a":97.2},{"n":0.3,"e":14,"a":97.3},{"n":0.3,"e":16,"a":97.4},{"n":0.3,"e":18,"a":97.4},{"n":0.3,"e":20,"a":97.5},{"n":0.3,"e":22,"a":97.5},{"n":0.3,"e":24,"a":97.6},{"n":0.3,"e":26,"a":97.6},{"n":0.3,"e":28,"a":97.6},{"n":0.3,"e":30,"a":97.6},
      {"n":0.3,"e":32,"a":97.7},{"n":0.3,"e":34,"a":97.6},{"n":0.3,"e":36,"a":97.7},{"n":0.3,"e":38,"a":97.7},{"n":0.3,"e":40,"a":97.7},{"n":0.3,"e":42,"a":97.7},{"n":0.3,"e":44,"a":97.7},{"n":0.3,"e":46,"a":97.7},{"n":0.3,"e":48,"a":97.7},{"n":0.3,"e":50,"a":97.8},
      {"n":0.3,"e":52,"a":97.7},{"n":0.3,"e":54,"a":97.7},{"n":0.3,"e":56,"a":97.7},{"n":0.3,"e":58,"a":97.8},{"n":0.3,"e":60,"a":97.7},{"n":0.3,"e":62,"a":97.8},{"n":0.3,"e":64,"a":97.8},{"n":0.3,"e":66,"a":97.7},{"n":0.3,"e":68,"a":97.8},{"n":0.3,"e":70,"a":97.8},
      {"n":0.3,"e":72,"a":97.8},{"n":0.3,"e":74,"a":97.8},{"n":0.3,"e":76,"a":97.7},{"n":0.3,"e":78,"a":97.8},{"n":0.3,"e":80,"a":97.8},{"n":0.3,"e":82,"a":97.8},{"n":0.3,"e":84,"a":97.8},{"n":0.3,"e":86,"a":97.8},{"n":0.3,"e":88,"a":97.8},{"n":0.3,"e":90,"a":97.8},
      {"n":0.3,"e":92,"a":97.8},{"n":0.3,"e":94,"a":97.8},{"n":0.3,"e":96,"a":97.8},{"n":0.3,"e":98,"a":97.8},{"n":0.3,"e":100,"a":97.8},{"n":0.3,"e":102,"a":97.9},{"n":0.3,"e":104,"a":97.8},{"n":0.3,"e":106,"a":97.8},{"n":0.3,"e":108,"a":97.8},{"n":0.3,"e":110,"a":97.8},
      {"n":0.3,"e":112,"a":97.8},{"n":0.3,"e":114,"a":97.8},{"n":0.3,"e":116,"a":97.8},{"n":0.3,"e":118,"a":97.8},{"n":0.3,"e":120,"a":97.9},{"n":0.3,"e":122,"a":97.8},{"n":0.3,"e":124,"a":97.8},{"n":0.3,"e":126,"a":97.8},{"n":0.3,"e":128,"a":97.8},{"n":0.3,"e":130,"a":97.8},
      {"n":0.3,"e":132,"a":97.8},{"n":0.3,"e":134,"a":97.8},{"n":0.3,"e":136,"a":97.8},{"n":0.3,"e":138,"a":97.9},{"n":0.3,"e":140,"a":97.8},{"n":0.3,"e":142,"a":97.8},{"n":0.3,"e":144,"a":97.8},{"n":0.3,"e":146,"a":97.8},{"n":0.3,"e":147,"a":97.8},

      {"n":0.4,"e":1,"a":61.5},{"n":0.4,"e":2,"a":89.4},{"n":0.4,"e":3,"a":93.5},{"n":0.4,"e":4,"a":94.9},{"n":0.4,"e":5,"a":95.5},{"n":0.4,"e":6,"a":95.9},{"n":0.4,"e":7,"a":96.2},{"n":0.4,"e":8,"a":96.4},{"n":0.4,"e":9,"a":96.5},{"n":0.4,"e":10,"a":96.6},
      {"n":0.4,"e":12,"a":96.8},{"n":0.4,"e":14,"a":96.9},{"n":0.4,"e":16,"a":97.0},{"n":0.4,"e":18,"a":97.1},{"n":0.4,"e":20,"a":97.2},{"n":0.4,"e":22,"a":97.2},{"n":0.4,"e":24,"a":97.3},{"n":0.4,"e":26,"a":97.3},{"n":0.4,"e":28,"a":97.3},{"n":0.4,"e":30,"a":97.3},
      {"n":0.4,"e":32,"a":97.4},{"n":0.4,"e":34,"a":97.3},{"n":0.4,"e":36,"a":97.4},{"n":0.4,"e":38,"a":97.4},{"n":0.4,"e":40,"a":97.4},{"n":0.4,"e":42,"a":97.4},{"n":0.4,"e":44,"a":97.4},{"n":0.4,"e":46,"a":97.3},{"n":0.4,"e":48,"a":97.4},{"n":0.4,"e":50,"a":97.4},
      {"n":0.4,"e":52,"a":97.4},{"n":0.4,"e":54,"a":97.4},{"n":0.4,"e":56,"a":97.3},{"n":0.4,"e":58,"a":97.4},{"n":0.4,"e":60,"a":97.4},{"n":0.4,"e":62,"a":97.4},{"n":0.4,"e":64,"a":97.4},{"n":0.4,"e":66,"a":97.4},{"n":0.4,"e":68,"a":97.4},{"n":0.4,"e":70,"a":97.5},
      {"n":0.4,"e":72,"a":97.4},{"n":0.4,"e":74,"a":97.4},{"n":0.4,"e":76,"a":97.5},{"n":0.4,"e":78,"a":97.4},{"n":0.4,"e":80,"a":97.4},{"n":0.4,"e":82,"a":97.5},{"n":0.4,"e":84,"a":97.4},{"n":0.4,"e":86,"a":97.5},{"n":0.4,"e":88,"a":97.5},{"n":0.4,"e":90,"a":97.5},
      {"n":0.4,"e":92,"a":97.5},{"n":0.4,"e":94,"a":97.4},{"n":0.4,"e":96,"a":97.5},{"n":0.4,"e":98,"a":97.5},{"n":0.4,"e":100,"a":97.5},{"n":0.4,"e":102,"a":97.5},{"n":0.4,"e":104,"a":97.5},{"n":0.4,"e":106,"a":97.5},{"n":0.4,"e":108,"a":97.5},{"n":0.4,"e":110,"a":97.5},
      {"n":0.4,"e":112,"a":97.5},{"n":0.4,"e":114,"a":97.5},{"n":0.4,"e":116,"a":97.5},{"n":0.4,"e":118,"a":97.5},{"n":0.4,"e":120,"a":97.5},{"n":0.4,"e":122,"a":97.5},{"n":0.4,"e":124,"a":97.5},{"n":0.4,"e":126,"a":97.5},{"n":0.4,"e":128,"a":97.5},{"n":0.4,"e":130,"a":97.5},
      {"n":0.4,"e":132,"a":97.5},{"n":0.4,"e":134,"a":97.5},{"n":0.4,"e":136,"a":97.5},{"n":0.4,"e":138,"a":97.5},{"n":0.4,"e":140,"a":97.5},{"n":0.4,"e":142,"a":97.5},{"n":0.4,"e":144,"a":97.5},{"n":0.4,"e":146,"a":97.5},{"n":0.4,"e":147,"a":97.5},

      {"n":0.5,"e":1,"a":58.0},{"n":0.5,"e":2,"a":87.2},{"n":0.5,"e":3,"a":92.6},{"n":0.5,"e":4,"a":94.2},{"n":0.5,"e":5,"a":95.0},{"n":0.5,"e":6,"a":95.4},{"n":0.5,"e":7,"a":95.7},{"n":0.5,"e":8,"a":95.9},{"n":0.5,"e":9,"a":96.1},{"n":0.5,"e":10,"a":96.2},
      {"n":0.5,"e":12,"a":96.4},{"n":0.5,"e":14,"a":96.5},{"n":0.5,"e":16,"a":96.6},{"n":0.5,"e":18,"a":96.7},{"n":0.5,"e":20,"a":96.8},{"n":0.5,"e":22,"a":96.8},{"n":0.5,"e":24,"a":96.9},{"n":0.5,"e":26,"a":96.9},{"n":0.5,"e":28,"a":97.0},{"n":0.5,"e":30,"a":97.0},
      {"n":0.5,"e":32,"a":97.0},{"n":0.5,"e":34,"a":97.0},{"n":0.5,"e":36,"a":97.0},{"n":0.5,"e":38,"a":97.0},{"n":0.5,"e":40,"a":97.0},{"n":0.5,"e":42,"a":96.9},{"n":0.5,"e":44,"a":97.0},{"n":0.5,"e":46,"a":96.9},{"n":0.5,"e":48,"a":96.9},{"n":0.5,"e":50,"a":96.9},
      {"n":0.5,"e":52,"a":96.9},{"n":0.5,"e":54,"a":96.9},{"n":0.5,"e":56,"a":96.9},{"n":0.5,"e":58,"a":96.8},{"n":0.5,"e":60,"a":96.9},{"n":0.5,"e":62,"a":96.9},{"n":0.5,"e":64,"a":96.9},{"n":0.5,"e":66,"a":96.9},{"n":0.5,"e":68,"a":96.9},{"n":0.5,"e":70,"a":96.9},
      {"n":0.5,"e":72,"a":96.9},{"n":0.5,"e":74,"a":97.0},{"n":0.5,"e":76,"a":96.9},{"n":0.5,"e":78,"a":96.9},{"n":0.5,"e":80,"a":97.0},{"n":0.5,"e":82,"a":97.0},{"n":0.5,"e":84,"a":96.9},{"n":0.5,"e":86,"a":97.0},{"n":0.5,"e":88,"a":97.0},{"n":0.5,"e":90,"a":97.0},
      {"n":0.5,"e":92,"a":97.0},{"n":0.5,"e":94,"a":97.0},{"n":0.5,"e":96,"a":97.0},{"n":0.5,"e":98,"a":97.0},{"n":0.5,"e":100,"a":97.0},{"n":0.5,"e":102,"a":97.1},{"n":0.5,"e":104,"a":97.0},{"n":0.5,"e":106,"a":97.0},{"n":0.5,"e":108,"a":97.0},{"n":0.5,"e":110,"a":97.0},
      {"n":0.5,"e":112,"a":97.0},{"n":0.5,"e":114,"a":97.1},{"n":0.5,"e":116,"a":97.0},{"n":0.5,"e":118,"a":97.0},{"n":0.5,"e":120,"a":97.0},{"n":0.5,"e":122,"a":97.1},{"n":0.5,"e":124,"a":97.0},{"n":0.5,"e":126,"a":97.1},{"n":0.5,"e":128,"a":97.0},{"n":0.5,"e":130,"a":97.1},
      {"n":0.5,"e":132,"a":97.1},{"n":0.5,"e":134,"a":97.0},{"n":0.5,"e":136,"a":97.1},{"n":0.5,"e":138,"a":97.1},{"n":0.5,"e":140,"a":97.0},{"n":0.5,"e":142,"a":97.1},{"n":0.5,"e":144,"a":97.1},{"n":0.5,"e":146,"a":97.1},{"n":0.5,"e":147,"a":97.1},

      {"n":0.6,"e":1,"a":55.0},{"n":0.6,"e":2,"a":85.2},{"n":0.6,"e":3,"a":91.6},{"n":0.6,"e":4,"a":93.2},{"n":0.6,"e":5,"a":94.2},{"n":0.6,"e":6,"a":94.8},{"n":0.6,"e":7,"a":95.1},{"n":0.6,"e":8,"a":95.4},{"n":0.6,"e":9,"a":95.6},{"n":0.6,"e":10,"a":95.7},
      {"n":0.6,"e":12,"a":95.9},{"n":0.6,"e":14,"a":96.1},{"n":0.6,"e":16,"a":96.3},{"n":0.6,"e":18,"a":96.5},{"n":0.6,"e":20,"a":96.6},{"n":0.6,"e":22,"a":96.7},{"n":0.6,"e":24,"a":96.8},{"n":0.6,"e":26,"a":96.9},{"n":0.6,"e":28,"a":97.0},{"n":0.6,"e":30,"a":97.0},
      {"n":0.6,"e":32,"a":97.0},{"n":0.6,"e":34,"a":97.0},{"n":0.6,"e":36,"a":97.0},{"n":0.6,"e":38,"a":97.0},{"n":0.6,"e":40,"a":96.9},{"n":0.6,"e":42,"a":97.0},{"n":0.6,"e":44,"a":96.9},{"n":0.6,"e":46,"a":96.9},{"n":0.6,"e":48,"a":96.8},{"n":0.6,"e":50,"a":96.8},
      {"n":0.6,"e":52,"a":96.8},{"n":0.6,"e":54,"a":96.7},{"n":0.6,"e":56,"a":96.7},{"n":0.6,"e":58,"a":96.6},{"n":0.6,"e":60,"a":96.6},{"n":0.6,"e":62,"a":96.6},{"n":0.6,"e":64,"a":96.7},{"n":0.6,"e":66,"a":96.6},{"n":0.6,"e":68,"a":96.6},{"n":0.6,"e":70,"a":96.6},
      {"n":0.6,"e":72,"a":96.6},{"n":0.6,"e":74,"a":96.7},{"n":0.6,"e":76,"a":96.6},{"n":0.6,"e":78,"a":96.6},{"n":0.6,"e":80,"a":96.7},{"n":0.6,"e":82,"a":96.6},{"n":0.6,"e":84,"a":96.7},{"n":0.6,"e":86,"a":96.7},{"n":0.6,"e":88,"a":96.6},{"n":0.6,"e":90,"a":96.7},
      {"n":0.6,"e":92,"a":96.7},{"n":0.6,"e":94,"a":96.7},{"n":0.6,"e":96,"a":96.6},{"n":0.6,"e":98,"a":96.7},{"n":0.6,"e":100,"a":96.7},{"n":0.6,"e":102,"a":96.7},{"n":0.6,"e":104,"a":96.7},{"n":0.6,"e":106,"a":96.7},{"n":0.6,"e":108,"a":96.6},{"n":0.6,"e":110,"a":96.7},
      {"n":0.6,"e":112,"a":96.7},{"n":0.6,"e":114,"a":96.7},{"n":0.6,"e":116,"a":96.7},{"n":0.6,"e":118,"a":96.7},{"n":0.6,"e":120,"a":96.7},{"n":0.6,"e":122,"a":96.6},{"n":0.6,"e":124,"a":96.7},{"n":0.6,"e":126,"a":96.7},{"n":0.6,"e":128,"a":96.7},{"n":0.6,"e":130,"a":96.7},
      {"n":0.6,"e":132,"a":96.7},{"n":0.6,"e":134,"a":96.7},{"n":0.6,"e":136,"a":96.7},{"n":0.6,"e":138,"a":96.7},{"n":0.6,"e":140,"a":96.8},{"n":0.6,"e":142,"a":96.7},{"n":0.6,"e":144,"a":96.7},{"n":0.6,"e":146,"a":96.7},{"n":0.6,"e":147,"a":96.7}
    ]
  },
  "spacing": 17,
  "resolve": {"legend": {"color": "independent"}},
  "hconcat": [
    {
      "width": 425, "height": 229,
      "data": {"name": "ce"},
      "title": {"text": ["Test Accuracy vs. Epochs on MNIST: Cross Entropy", "Corrupted by Symmetric Noise at Rate η"]},
      "encoding": {
        "x": {"field": "e", "type": "quantitative", "scale": {"domain": [-6.3, 154.3], "nice": false, "zero": false},
              "axis": {"title": "Epochs", "values": [0, 25, 50, 75, 100, 125, 150], "offset": 9, "labelPadding": 9, "titlePadding": 12}},
        "y": {"field": "a", "type": "quantitative", "scale": {"domain": [60, 100], "nice": false, "zero": false},
              "axis": {"title": "Clean Test Accuracy (%)", "values": [60, 65, 70, 75, 80, 85, 90, 95, 100], "offset": 9, "labelPadding": 4, "titlePadding": 20}},
        "color": {"field": "n", "type": "nominal",
                  "scale": {"range": ["#472c7a", "#3b528b", "#2c728e", "#21918c", "#28ae80", "#5ec962", "#addc30"]},
                  "legend": {"title": null, "orient": "none", "legendX": 284, "legendY": 98,
                             "fillColor": "rgba(255,255,255,0.8)", "strokeColor": "#cccccc", "cornerRadius": 3, "padding": 4,
                             "symbolType": "M-1,-0.25H8V0.25H-1Z M2.67,0A0.83,0.83 0 1,1 4.33,0A0.83,0.83 0 1,1 2.67,0Z",
                             "symbolSize": 36, "symbolStrokeWidth": 0, "symbolOpacity": 1,
                             "labelFont": "Liberation Sans", "labelFontSize": 12.5, "labelColor": "#262626", "labelOffset": 29, "rowPadding": 4.5,
                             "labelExpr": "'η = ' + format(datum.value, '.2f')"}}
      },
      "layer": [
        {"mark": {"type": "line", "clip": true, "strokeWidth": 2}},
        {"mark": {"type": "point", "filled": true, "size": 22, "opacity": 1, "clip": true}}
      ]
    },
    {
      "width": 425, "height": 229,
      "data": {"name": "mae"},
      "title": {"text": ["Test Accuracy vs. Epochs on MNIST: MAE", "Corrupted by Symmetric Noise at Rate η"]},
      "encoding": {
        "x": {"field": "e", "type": "quantitative", "scale": {"domain": [-6.3, 154.3], "nice": false, "zero": false},
              "axis": {"title": "Epochs", "values": [0, 25, 50, 75, 100, 125, 150], "offset": 9, "labelPadding": 9, "titlePadding": 12}},
        "y": {"field": "a", "type": "quantitative", "scale": {"domain": [60, 100], "nice": false, "zero": false},
              "axis": {"title": "Clean Test Accuracy (%)", "values": [60, 65, 70, 75, 80, 85, 90, 95, 100], "offset": 9, "labelPadding": 4, "titlePadding": 20}},
        "color": {"field": "n", "type": "nominal",
                  "scale": {"range": ["#472c7a", "#3b528b", "#2c728e", "#21918c", "#28ae80", "#5ec962", "#addc30"]},
                  "legend": {"title": null, "orient": "none", "legendX": 284, "legendY": 98,
                             "fillColor": "rgba(255,255,255,0.8)", "strokeColor": "#cccccc", "cornerRadius": 3, "padding": 4,
                             "symbolType": "M-1,-0.25H8V0.25H-1Z M2.67,0A0.83,0.83 0 1,1 4.33,0A0.83,0.83 0 1,1 2.67,0Z",
                             "symbolSize": 36, "symbolStrokeWidth": 0, "symbolOpacity": 1,
                             "labelFont": "Liberation Sans", "labelFontSize": 12.5, "labelColor": "#262626", "labelOffset": 29, "rowPadding": 4.5,
                             "labelExpr": "'η = ' + format(datum.value, '.2f')"}}
      },
      "layer": [
        {"mark": {"type": "line", "clip": true, "strokeWidth": 2}},
        {"mark": {"type": "point", "filled": true, "size": 22, "opacity": 1, "clip": true}}
      ]
    }
  ]
}
